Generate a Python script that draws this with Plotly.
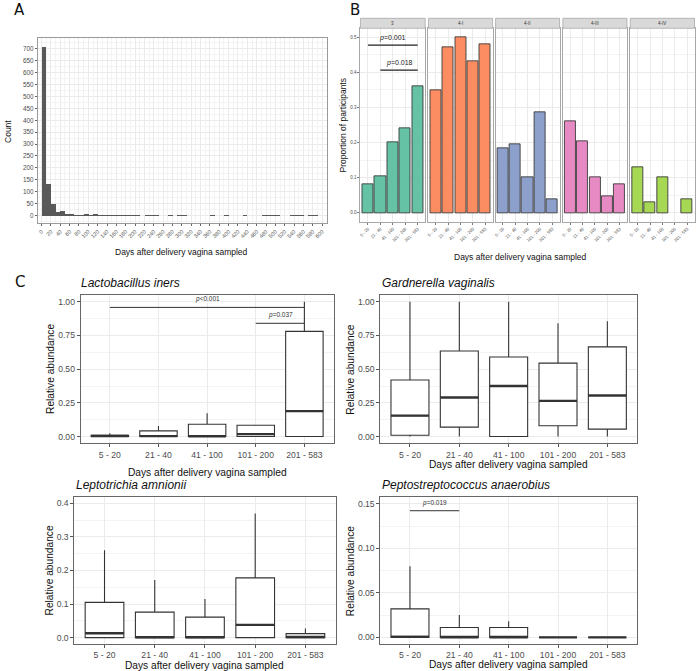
import plotly.graph_objects as go

W, H = 696, 671

# ---------------- Panel A data (histogram counts, bin width 10 days) ----------------
HIST_BIN_START = 0
HIST_BIN_WIDTH = 10
hist_counts = [710, 135, 48, 15, 18, 4, 4, 2, 1, 5, 2, 5, 1, 1, 2, 3, 1, 1, 1, 1,
               1, 0, 1, 2, 1, 0, 0, 1, 0, 1, 1, 0, 0, 0, 0, 0, 2, 0, 0, 1,
               0, 0, 0, 1, 0, 0, 0, 1, 1, 1, 1, 0, 0, 1, 1, 1, 0, 1, 1, 0]
hist_xticks = list(range(0, 601, 20))
hist_yticks = list(range(0, 701, 50))

# ---------------- Panel B data ----------------
time_groups = ["5 - 20", "21 - 40", "41 - 100", "101 - 200", "201 - 583"]
cst_groups = ["3", "4-I", "4-II", "4-III", "4-IV"]
prop_3 = [0.08, 0.103, 0.20, 0.24, 0.36]
prop_4I = [0.35, 0.47, 0.50, 0.43, 0.48]
prop_4II = [0.183, 0.195, 0.10, 0.286, 0.04]
prop_4III = [0.26, 0.205, 0.10, 0.048, 0.08]
prop_4IV = [0.13, 0.03, 0.10, None, 0.04]
cst_colors = ["#66C2A5", "#FC8D62", "#8DA0CB", "#E78AC3", "#A6D854"]
b_sig_from = [0, 1]
b_sig_to = [4, 4]
b_sig_level = [0.477, 0.406]
b_sig_label = ["<i>p</i>=0.001", "<i>p</i>=0.018"]

# ---------------- Panel C data (box statistics) ----------------
iners_lower = [0, 0, 0, 0, 0]
iners_q1 = [0, 0, 0, 0, 0]
iners_median = [0.004, 0.003, 0.002, 0.018, 0.189]
iners_q3 = [0.01, 0.042, 0.091, 0.084, 0.78]
iners_upper = [0.025, 0.079, 0.172, 0.084, 1.0]

gard_lower = [0, 0, 0, 0, 0]
gard_q1 = [0.01, 0.07, 0.0, 0.08, 0.055]
gard_median = [0.155, 0.29, 0.375, 0.265, 0.305]
gard_q3 = [0.42, 0.635, 0.59, 0.545, 0.665]
gard_upper = [1.0, 1.0, 1.0, 0.84, 0.855]

lept_lower = [0, 0, 0, 0, 0]
lept_q1 = [0, 0, 0, 0, 0]
lept_median = [0.013, 0.001, 0.001, 0.038, 0.002]
lept_q3 = [0.105, 0.076, 0.061, 0.178, 0.012]
lept_upper = [0.26, 0.172, 0.115, 0.37, 0.027]

pepto_lower = [0, 0, 0, 0, 0]
pepto_q1 = [0, 0, 0, 0, 0]
pepto_median = [0.0005, 0.0, 0.0, 0.0, 0.0]
pepto_q3 = [0.032, 0.011, 0.011, 0.0, 0.0]
pepto_upper = [0.08, 0.025, 0.018, 0.0, 0.0]

iners_sig = [(0, 4, 0.958, "<i>p</i><0.001"), (3, 4, 0.84, "<i>p</i>=0.037")]
pepto_sig = [(0, 1, 0.1424, "<i>p</i>=0.019")]

# ---------------- helpers ----------------
FONT = "Liberation Sans, Arial, sans-serif"
TICKC = "#4D4D4D"
GRID = "#EBEBEB"
GRIDMINOR = "#F3F3F3"


def xd(a, b):
    return [a / W, b / W]


def yd(top, bottom):
    return [1 - bottom / H, 1 - top / H]


def px(x):
    return x / W


def py(y):
    return 1 - y / H


def label(text, x, y, size, angle=0, family=FONT, color="#111", xanchor="center"):
    return dict(text=text, x=px(x), y=py(y), xref="paper", yref="paper",
                xanchor=xanchor, yanchor="middle", textangle=angle, showarrow=False,
                font=dict(size=size, family=family, color=color))


fig = go.Figure()
annotations = []
shapes = []

# ---------------- Panel A ----------------
centers = [HIST_BIN_START + HIST_BIN_WIDTH * (i + 0.5) for i in range(len(hist_counts))]
fig.add_trace(go.Bar(x=centers, y=hist_counts, width=HIST_BIN_WIDTH,
                     marker=dict(color="#595959", line=dict(width=0)),
                     xaxis="x", yaxis="y", showlegend=False, hoverinfo="skip"))

layout_axes = {}
layout_axes["xaxis"] = dict(domain=xd(36, 326.7), range=[-8, 611], anchor="y",
                            tickmode="array", tickvals=hist_xticks, tickangle=-45,
                            tickfont=dict(size=5.5, color=TICKC, family=FONT),
                            ticks="outside", ticklen=2, tickcolor="#666",
                            showgrid=True, gridcolor=GRID, gridwidth=0.8,
                            minor=dict(tickmode="linear", tick0=10, dtick=20, showgrid=True,
                                       gridcolor=GRIDMINOR, gridwidth=0.5),
                            showline=True, mirror=True, linecolor="#9A9A9A", linewidth=1,
                            zeroline=False)
layout_axes["yaxis"] = dict(domain=yd(37.7, 223.3), range=[-33, 747], anchor="x",
                            tickmode="array", tickvals=hist_yticks,
                            tickfont=dict(size=6.4, color=TICKC, family=FONT),
                            ticks="outside", ticklen=2, tickcolor="#666",
                            showgrid=True, gridcolor=GRID, gridwidth=0.8,
                            minor=dict(tickmode="linear", tick0=25, dtick=50, showgrid=True,
                                       gridcolor=GRIDMINOR, gridwidth=0.5),
                            showline=True, mirror=True, linecolor="#9A9A9A", linewidth=1,
                            zeroline=False)
annotations.append(label("Count", 6, 131, 8.5, angle=-90))
annotations.append(label("Days after delivery vagina sampled", 180, 252, 8.5))

# ---------------- Panel B ----------------
facet_x = [(360, 425), (428.3, 492.7), (495.7, 560), (563.3, 627.7), (631, 695.5)]
b_props = [prop_3, prop_4I, prop_4II, prop_4III, prop_4IV]
cat_idx = list(range(len(time_groups)))
for k, (vals, col) in enumerate(zip(b_props, cst_colors)):
    n = k + 2
    xa, ya = f"x{n}", f"y{n}"
    fig.add_trace(go.Bar(x=cat_idx, y=vals, width=0.9,
                         marker=dict(color=col, line=dict(color="#3A3A3A", width=0.9)),
                         xaxis=xa, yaxis=ya, showlegend=False, hoverinfo="skip"))
    layout_axes[f"xaxis{n}"] = dict(domain=xd(*facet_x[k]), range=[-0.6, 4.6], anchor=ya,
                                    tickmode="array", tickvals=cat_idx, ticktext=time_groups,
                                    tickangle=-45, tickfont=dict(size=4.3, color=TICKC, family=FONT),
                                    ticks="outside", ticklen=2, tickcolor="#777",
                                    showgrid=True, gridcolor=GRID, gridwidth=0.8,
                                    showline=True, mirror=True, linecolor="#A8A8A8", linewidth=1,
                                    zeroline=False)
    ydict = dict(domain=yd(28.3, 221.7), range=[-0.025, 0.525], anchor=xa,
                 tickmode="linear", tick0=0, dtick=0.1, tickformat=".1f",
                 showgrid=True, gridcolor=GRID, gridwidth=0.8,
                 minor=dict(tickmode="linear", tick0=0.05, dtick=0.1, showgrid=True,
                            gridcolor=GRIDMINOR, gridwidth=0.5),
                 showline=True, mirror=True, linecolor="#A8A8A8", linewidth=1, zeroline=False)
    if k == 0:
        ydict.update(showticklabels=True, ticks="outside", ticklen=2, tickcolor="#777",
                     tickfont=dict(size=4.5, color=TICKC, family=FONT))
    else:
        ydict.update(showticklabels=False, ticks="")
    layout_axes[f"yaxis{n}"] = ydict
    # strip
    shapes.append(dict(type="rect", xref="paper", yref="paper",
                       x0=px(facet_x[k][0]), x1=px(facet_x[k][1]), y0=py(28.3), y1=py(18.3),
                       fillcolor="#D9D9D9", line=dict(color="#A8A8A8", width=0.8), layer="above"))
    annotations.append(label(cst_groups[k], (facet_x[k][0] + facet_x[k][1]) / 2, 23.3, 4.5, color="#333"))

for a, b, lvl, lab in zip(b_sig_from, b_sig_to, b_sig_level, b_sig_label):
    fig.add_trace(go.Scatter(x=[a, b], y=[lvl, lvl], mode="lines",
                             line=dict(color="#222", width=1.2), xaxis="x2", yaxis="y2",
                             showlegend=False, hoverinfo="skip"))
    annotations.append(dict(text=lab, x=(a + b) / 2, y=lvl, xref="x2", yref="y2",
                            xanchor="center", yanchor="bottom", yshift=1, showarrow=False,
                            font=dict(size=7, family=FONT, color="#222")))

annotations.append(label("Proportion of participants", 342, 125, 8.5, angle=-90))
annotations.append(label("Days after delivery vagina sampled", 521, 257, 8.5))

# ---------------- Panel C ----------------
BOXW = 0.77
c_panels = [
    dict(n=7, title="Lactobacillus iners", stats=(iners_lower, iners_q1, iners_median, iners_q3, iners_upper),
         xdom=(79, 333), ydom=(295, 443.3), yrange=[-0.05, 1.05], dtick=0.25, fmt=".2f",
         title_pos=(77, 283), ytitle_x=48, xtitle_y=472.7, sig=iners_sig),
    dict(n=8, title="Gardnerella vaginalis", stats=(gard_lower, gard_q1, gard_median, gard_q3, gard_upper),
         xdom=(380, 637.7), ydom=(295, 443.3), yrange=[-0.05, 1.05], dtick=0.25, fmt=".2f",
         title_pos=(380, 283), ytitle_x=350, xtitle_y=464, sig=[]),
    dict(n=9, title="Leptotrichia amnionii", stats=(lept_lower, lept_q1, lept_median, lept_q3, lept_upper),
         xdom=(72.7, 335), ydom=(497.3, 644), yrange=[-0.019, 0.418], dtick=0.1, fmt=".1f",
         title_pos=(72.7, 485), ytitle_x=48, xtitle_y=665, sig=[]),
    dict(n=10, title="Peptostreptococcus anaerobius",
         stats=(pepto_lower, pepto_q1, pepto_median, pepto_q3, pepto_upper),
         xdom=(380, 637.7), ydom=(497.3, 644), yrange=[-0.0075, 0.1575], dtick=0.05, fmt=".2f",
         title_pos=(380, 485), ytitle_x=350, xtitle_y=664, sig=pepto_sig),
]

for p in c_panels:
    n = p["n"]
    xa, ya = f"x{n}", f"y{n}"
    lo, q1, med, q3, hi = p["stats"]
    fig.add_trace(go.Box(x=cat_idx, lowerfence=lo, q1=q1, median=med, q3=q3, upperfence=hi,
                         width=BOXW, whiskerwidth=0, boxpoints=False,
                         fillcolor="white", line=dict(color="#333333", width=1.1),
                         xaxis=xa, yaxis=ya, showlegend=False, hoverinfo="skip"))
    mx, my = [], []
    for i, m in zip(cat_idx, med):
        mx += [i - BOXW / 2, i + BOXW / 2, None]
        my += [m, m, None]
    fig.add_trace(go.Scatter(x=mx, y=my, mode="lines", line=dict(color="#333333", width=2.4),
                             xaxis=xa, yaxis=ya, showlegend=False, hoverinfo="skip"))
    for a, b, lvl, lab in p["sig"]:
        fig.add_trace(go.Scatter(x=[a, b], y=[lvl, lvl], mode="lines",
                                 line=dict(color="#333", width=1), xaxis=xa, yaxis=ya,
                                 showlegend=False, hoverinfo="skip"))
        annotations.append(dict(text=lab, x=(a + b) / 2, y=lvl, xref=xa, yref=ya,
                                xanchor="center", yanchor="bottom", yshift=2, showarrow=False,
                                font=dict(size=6.5, family=FONT, color="#333")))
    layout_axes[f"xaxis{n}"] = dict(domain=xd(*p["xdom"]), range=[-0.6, 4.6], anchor=ya,
                                    tickmode="array", tickvals=cat_idx, ticktext=time_groups,
                                    tickfont=dict(size=8.6, color=TICKC, family=FONT),
                                    ticks="outside", ticklen=3, tickcolor="#555",
                                    showgrid=True, gridcolor=GRID, gridwidth=1,
                                    showline=True, mirror=True, linecolor="#666666", linewidth=1,
                                    zeroline=False)
    layout_axes[f"yaxis{n}"] = dict(domain=yd(*p["ydom"]), range=p["yrange"], anchor=xa,
                                    tickmode="linear", tick0=0, dtick=p["dtick"], tickformat=p["fmt"],
                                    tickfont=dict(size=8.6, color=TICKC, family=FONT),
                                    ticks="outside", ticklen=3, tickcolor="#555",
                                    showgrid=True, gridcolor=GRID, gridwidth=1,
                                    minor=dict(tickmode="linear", tick0=p["dtick"] / 2, dtick=p["dtick"],
                                               showgrid=True, gridcolor=GRIDMINOR, gridwidth=0.6),
                                    showline=True, mirror=True, linecolor="#666666", linewidth=1,
                                    zeroline=False)
    tx, ty = p["title_pos"]
    annotations.append(label("<i>" + p["title"] + "</i>", tx, ty, 12, xanchor="left"))
    annotations.append(label("Relative abundance", p["ytitle_x"], (p["ydom"][0] + p["ydom"][1]) / 2,
                             10.2, angle=-90))
    annotations.append(label("Days after delivery vagina sampled", (p["xdom"][0] + p["xdom"][1]) / 2,
                             p["xtitle_y"], 10.2))

# panel letters
for lab, (lx, ly) in zip(["A", "B", "C"], [(17.5, 10), (354.5, 10), (18, 282)]):
    annotations.append(label(lab, lx, ly, 15, family="DejaVu Sans"))

fig.update_layout(width=W, height=H, margin=dict(l=0, r=0, t=0, b=0),
                  paper_bgcolor="white", plot_bgcolor="white",
                  bargap=0, showlegend=False, annotations=annotations, shapes=shapes,
                  **layout_axes)

fig.write_html("out.html", config={"displayModeBar": False},
               post_script="document.body.style.margin='0px';document.body.style.padding='0px';")
